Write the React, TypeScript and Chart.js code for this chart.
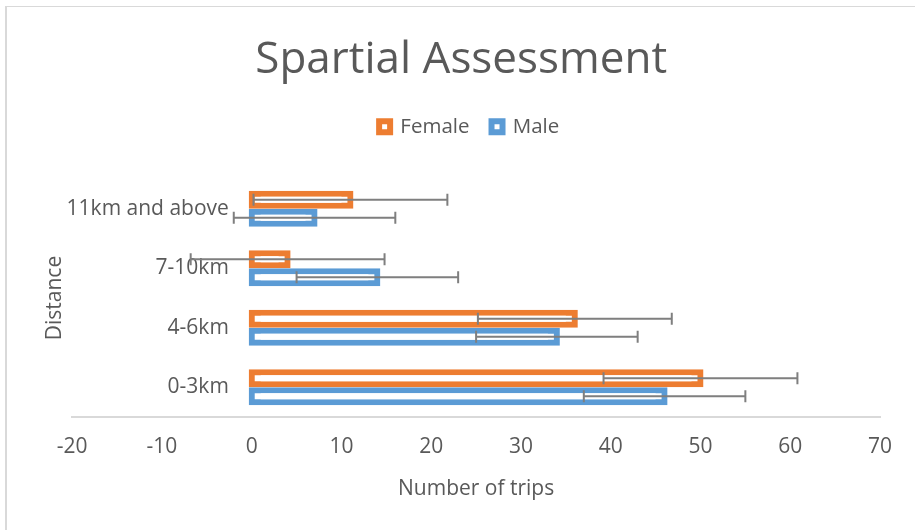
import React, { useEffect, useRef } from 'react';
import { Chart, registerables } from 'chart.js';

Chart.register(...registerables);

// ---- Data ----
const categories = ['11km and above', '7-10km', '4-6km', '0-3km'];
const femaleTrips = [11, 4, 36, 50];
const maleTrips = [7, 14, 34, 46];
const femaleErr = [10.8, 10.8, 10.8, 10.8];
const maleErr = [9, 9, 9, 9];
const xMin = -20;
const xMax = 70;
const xStep = 10;

const FONT = "'Open Sans', 'Noto Sans', sans-serif";
const TEXT = '#595959';

const errorsByDataset = [femaleErr, maleErr];

const errorBarPlugin = {
  id: 'errorBars',
  afterDatasetsDraw(chart: any) {
    const ctx = chart.ctx;
    const xs = chart.scales.x;
    chart.data.datasets.forEach((ds: any, i: number) => {
      const meta = chart.getDatasetMeta(i);
      const errs = errorsByDataset[i];
      meta.data.forEach((bar: any, j: number) => {
        const v = ds.data[j];
        const e = errs[j];
        const x1 = xs.getPixelForValue(v - e);
        const x2 = xs.getPixelForValue(v + e);
        const y = bar.y;
        ctx.save();
        ctx.strokeStyle = '#7f7f7f';
        ctx.lineWidth = 2;
        ctx.beginPath();
        ctx.moveTo(x1, y);
        ctx.lineTo(x2, y);
        ctx.moveTo(x1, y - 6);
        ctx.lineTo(x1, y + 6);
        ctx.moveTo(x2, y - 6);
        ctx.lineTo(x2, y + 6);
        ctx.stroke();
        ctx.restore();
      });
    });
  },
};

const legendSpacer = {
  id: 'legendSpacer',
  beforeLayout(chart: any) {
    const legend = chart.legend;
    if (legend && !legend.__spaced) {
      const orig = legend.fit;
      legend.fit = function () {
        orig.call(this);
        this.height += 32;
      };
      legend.__spaced = true;
    }
  },
  afterLayout(chart: any) {
    const legend = chart.legend;
    if (legend) {
      legend.left += 8;
      legend.right += 8;
    }
  },
};

export default function App() {
  const ref = useRef<HTMLCanvasElement | null>(null);

  useEffect(() => {
    if (!ref.current) return;
    const font = { family: FONT, size: 21 };
    const chart = new Chart(ref.current, {
      type: 'bar',
      data: {
        labels: categories,
        datasets: [
          {
            label: 'Female',
            data: femaleTrips,
            backgroundColor: '#ffffff',
            borderColor: '#ED7D31',
            borderWidth: 6,
            borderSkipped: false,
            inflateAmount: 3,
            categoryPercentage: 0.605,
            barPercentage: 0.667,
            xAxisID: 'x',
            yAxisID: 'y',
          } as any,
          {
            label: 'Male',
            data: maleTrips,
            backgroundColor: '#ffffff',
            borderColor: '#5B9BD5',
            borderWidth: 6,
            borderSkipped: false,
            inflateAmount: 3,
            categoryPercentage: 0.605,
            barPercentage: 0.667,
            xAxisID: 'x',
            yAxisID: 'y',
          } as any,
        ],
      },
      options: {
        indexAxis: 'y',
        animation: false,
        responsive: false,
        maintainAspectRatio: false,
        layout: { padding: { left: 42.4, right: 35, top: 0, bottom: 28.6 } },
        plugins: {
          title: {
            display: true,
            text: 'Spartial Assessment',
            color: TEXT,
            font: { family: FONT, size: 44, weight: 'normal' },
            padding: { top: 34, bottom: 7.7 },
          },
          legend: {
            display: true,
            position: 'top',
            labels: {
              color: TEXT,
              font: { family: FONT, size: 20.5 },
              boxWidth: 11,
              boxHeight: 11,
              padding: 22,
            },
          },
          tooltip: { enabled: false },
        },
        scales: {
          x: {
            type: 'linear',
            min: xMin,
            max: xMax,
            ticks: { stepSize: xStep, color: TEXT, font, padding: 17 },
            grid: { display: false, drawTicks: false },
            border: { display: true, color: '#d9d9d9', width: 2 },
            title: {
              display: true,
              text: 'Number of trips',
              color: TEXT,
              font,
              padding: { top: 0, bottom: 0 },
            },
          },
          y: {
            type: 'category',
            // labels sit just left of the zero line, like the original
            position: { x: -2.55 } as any,
            grid: { display: false, drawTicks: false },
            border: { display: false },
            ticks: { color: TEXT, font, padding: 0 },
          },
          y2: {
            type: 'category',
            position: 'left',
            grid: { display: false, drawTicks: false },
            border: { display: false },
            ticks: { display: false },
            title: {
              display: true,
              text: 'Distance',
              color: TEXT,
              font,
              padding: { top: 0, bottom: 4.6 },
            },
          },
        } as any,
      },
      plugins: [errorBarPlugin, legendSpacer],
    });
    return () => chart.destroy();
  }, []);

  return (
    <div style={{ position: 'fixed', left: 0, top: 0, width: 915, height: 530, background: '#ffffff', overflow: 'hidden' }}>
      <div
        style={{
          position: 'absolute',
          left: 5,
          top: 6,
          width: 1000,
          height: 1000,
          borderLeft: '2px solid #d9d9d9',
          borderTop: '1px solid #d9d9d9',
        }}
      />
      <canvas
        ref={ref}
        width={915}
        height={530}
        style={{ position: 'absolute', left: 0, top: 0, width: 915, height: 530, display: 'block' }}
      />
    </div>
  );
}
